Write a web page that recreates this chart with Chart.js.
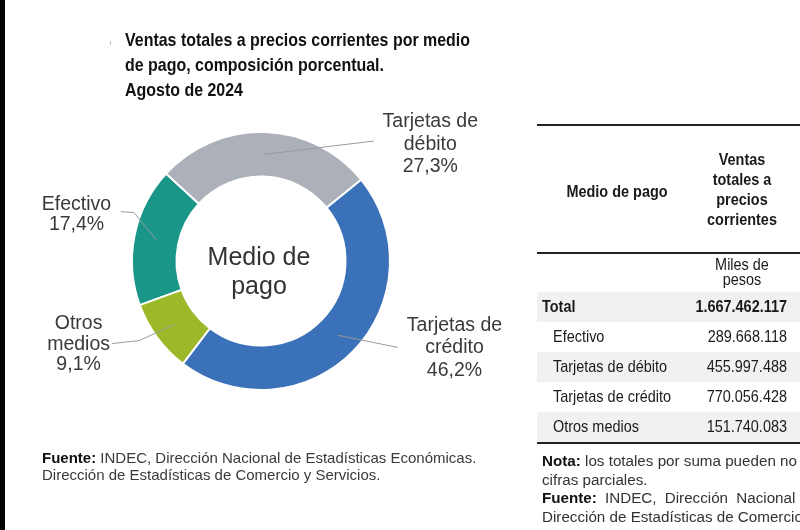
<!DOCTYPE html>
<html>
<head>
<meta charset="utf-8">
<script src="https://cdn.jsdelivr.net/npm/chart.js@4.4.1/dist/chart.umd.min.js"></script>
<style>
  html, body { margin:0; padding:0; background:#fff; }
  body { width:800px; height:530px; overflow:hidden; position:relative; }
  #chart { position:absolute; left:0; top:0; }
  .strip { position:absolute; left:0; top:0; width:5px; height:530px; background:#000; }
  .tick { position:absolute; left:110px; top:41px; width:1px; height:4px; background:#bbb; }
  .title { position:absolute; left:125px; top:27px; font:bold 19px 'Liberation Sans',Arial,sans-serif; line-height:25px; color:#111; white-space:nowrap; transform:scaleX(0.84); transform-origin:left center; }
  .src { position:absolute; left:42px; top:449px; font:15px 'Liberation Sans',Arial,sans-serif; line-height:17px; color:#3a3a3a; white-space:nowrap; }
  .src b { color:#111; }
  .rule { position:absolute; left:537px; width:263px; height:2px; background:#222; }
  .stripe { position:absolute; left:537px; width:263px; height:30px; background:#f1f1f1; }
  .tx { position:absolute; font-family:'Liberation Sans',Arial,sans-serif; font-size:17px; color:#1a1a1a; white-space:nowrap; transform:scaleX(0.85); }
  .tl { transform-origin:left center; }
  .tr { transform-origin:right center; text-align:right; }
  .tc { transform-origin:center center; text-align:center; }
  .hdr { font-weight:bold; }
  .nota { position:absolute; left:542px; top:452px; font:15.2px 'Liberation Sans',Arial,sans-serif; line-height:18.7px; color:#333; white-space:nowrap; }
  .nota b { color:#111; }
</style>
</head>
<body>
<canvas id="chart" width="800" height="530"></canvas>
<div class="strip"></div>
<div class="tick"></div>
<div class="title">Ventas totales a precios corrientes por medio<br>de pago, composición porcentual.<br>Agosto de 2024</div>
<div class="src"><b>Fuente:</b> INDEC, Dirección Nacional de Estadísticas Económicas.<br>Dirección de Estadísticas de Comercio y Servicios.</div>
<div id="table"></div>
<div class="nota"><b>Nota:</b> los totales por suma pueden no<br>cifras parciales.<br><span style="word-spacing:4px"><b>Fuente:</b> INDEC, Dirección Nacional de</span><br>Dirección de Estadísticas de Comercio</div>

<script>
// ---------- data ----------
const categories = ['Efectivo', 'Tarjetas de débito', 'Tarjetas de crédito', 'Otros medios'];
const chartLabelLines = [['Efectivo'], ['Tarjetas de', 'débito'], ['Tarjetas de', 'crédito'], ['Otros', 'medios']];
const shares = [17.4, 27.3, 46.2, 9.1];               // % composición
const salesThousands = [289668118, 455997488, 770056428, 151740083]; // miles de pesos
const totalThousands = 1667462117;
const centerLines = ['Medio de', 'pago'];
const tableHeader = ['Medio de pago', ['Ventas', 'totales a', 'precios', 'corrientes'], ['Miles de', 'pesos']];
const sliceColors = ['#199687', '#acb0b8', '#3a71b8', '#9bb928'];

// ---------- helpers ----------
const fmtThousands = n => String(n).replace(/\B(?=(\d{3})+(?!\d))/g, '.');
const fmtPct = v => v.toFixed(1).replace('.', ',') + '%';

// ---------- table ----------
(function buildTable(){
  const t = document.getElementById('table');
  let h = '';
  h += '<div class="rule" style="top:124px"></div>';
  h += '<div class="tx tc hdr" style="left:537px;width:160px;top:182px;line-height:20px">' + tableHeader[0] + '</div>';
  h += '<div class="tx tc hdr" style="left:692px;width:100px;top:150px;line-height:20px">' + tableHeader[1].join('<br>') + '</div>';
  h += '<div class="rule" style="top:252px"></div>';
  h += '<div class="tx tc" style="left:692px;width:100px;top:257px;line-height:15px">' + tableHeader[2].join('<br>') + '</div>';
  const rows = [['Total', totalThousands, true]].concat(categories.map((c, i) => [c, salesThousands[i], false]));
  rows.forEach((r, i) => {
    const top = 292 + i * 30;
    if (i % 2 === 0) h += '<div class="stripe" style="top:' + top + 'px"></div>';
    const w = r[2] ? 'bold' : 'normal';
    const left = r[2] ? 542 : 553;
    h += '<div class="tx tl" style="left:' + left + 'px;top:' + top + 'px;line-height:30px;font-weight:' + w + '">' + r[0] + '</div>';
    h += '<div class="tx tr" style="left:667px;width:120px;top:' + top + 'px;line-height:30px;font-weight:' + w + '">' + fmtThousands(r[1]) + '</div>';
  });
  h += '<div class="rule" style="top:442px"></div>';
  t.innerHTML = h;
})();

// ---------- leader lines + labels plugin ----------
const leaderPlugin = {
  id: 'leaders',
  afterDatasetsDraw(chart, args, opts) {
    const ctx = chart.ctx;
    const meta = chart.getDatasetMeta(0);
    let cx = 0, cy = 0;
    meta.data.forEach((arc, i) => {
      const p = arc.getProps(['x', 'y', 'outerRadius'], true);
      cx = p.x; cy = p.y;
      const R = p.outerRadius;
      const c = arc.tooltipPosition(true);
      const pl = opts.placement[i];
      ctx.save();
      ctx.strokeStyle = opts.lineColor;
      ctx.lineWidth = 1;
      ctx.beginPath();
      ctx.moveTo(c.x, c.y);
      pl.path.forEach(q => ctx.lineTo(p.x + q[0] * R, p.y + q[1] * R));
      ctx.stroke();
      const lines = chart.data.labels[i].concat([fmtPct(chart.data.datasets[0].data[i])]);
      ctx.fillStyle = opts.textColor;
      ctx.font = opts.font;
      ctx.textAlign = 'center';
      ctx.textBaseline = 'middle';
      const tx = p.x + pl.text[0] * R, ty = p.y + pl.text[1] * R;
      lines.forEach((s, k) => ctx.fillText(s, tx, ty + (k - (lines.length - 1) / 2) * pl.lh));
      ctx.restore();
    });
    // center text
    ctx.save();
    ctx.fillStyle = opts.centerColor;
    ctx.font = opts.centerFont;
    ctx.textAlign = 'center';
    ctx.textBaseline = 'alphabetic';
    centerLines.forEach((s, k) => ctx.fillText(s, cx - 2, cy + 4 + k * 29));
    ctx.restore();
  }
};

new Chart(document.getElementById('chart'), {
  type: 'doughnut',
  data: {
    labels: chartLabelLines,
    datasets: [{
      data: shares,
      backgroundColor: sliceColors,
      borderColor: '#ffffff',
      borderWidth: 2,
      hoverOffset: 0
    }]
  },
  options: {
    responsive: false,
    animation: false,
    devicePixelRatio: 1,
    rotation: 250,
    radius: 129,
    cutout: '65.5%',
    layout: { padding: { left: 131, top: 131, right: 409, bottom: 139 } },
    plugins: {
      legend: { display: false },
      tooltip: { enabled: false },
      leaders: {
        lineColor: '#9a9a9a',
        textColor: '#3a3a3a',
        font: '19.5px "Liberation Sans", Arial, sans-serif',
        centerColor: '#333333',
        centerFont: '25px "Liberation Sans", Arial, sans-serif',
        placement: [
          { path: [[-0.984, -0.375], [-1.086, -0.383]], text: [-1.43, -0.359], lh: 20.5 },
          { path: [[0.875, -0.93]], text: [1.3125, -0.904], lh: 22.5 },
          { path: [[1.06, 0.67]], text: [1.5, 0.674], lh: 22.5 },
          { path: [[-0.945, 0.617], [-1.156, 0.64]], text: [-1.414, 0.648], lh: 20.5 }
        ]
      }
    }
  },
  plugins: [leaderPlugin]
});
</script>
</body>
</html>
